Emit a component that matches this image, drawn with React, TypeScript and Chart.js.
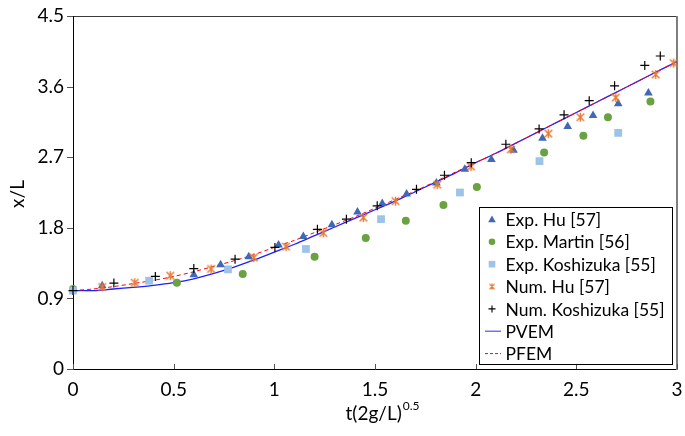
import React, { useEffect, useRef } from 'react';
import { Chart, registerables } from 'chart.js';

Chart.register(...registerables);

const X_TICKS = [0, 0.5, 1, 1.5, 2, 2.5, 3];
const X_TICK_LABELS = ['0', '0.5', '1', '1.5', '2', '2.5', '3'];
const Y_TICKS = [0, 0.9, 1.8, 2.7, 3.6, 4.5];
const Y_TICK_LABELS = ['0', '0.9', '1.8', '2.7', '3.6', '4.5'];

const EXP_HU_T = [0.145, 0.6, 0.733, 0.873, 1.021, 1.144, 1.286, 1.413, 1.536, 1.657, 1.805, 1.946, 2.078, 2.188, 2.332, 2.457, 2.583, 2.708, 2.858];
const EXP_HU_V = [1.06, 1.2, 1.33, 1.43, 1.58, 1.69, 1.84, 2.0, 2.11, 2.23, 2.37, 2.545, 2.67, 2.79, 2.94, 3.09, 3.23, 3.38, 3.52];

const EXP_MARTIN_T = [0, 0.516, 0.843, 1.2, 1.454, 1.653, 1.84, 2.006, 2.34, 2.535, 2.657, 2.868];
const EXP_MARTIN_V = [1.02, 1.1, 1.21, 1.43, 1.67, 1.89, 2.09, 2.32, 2.76, 2.975, 3.21, 3.41];

const EXP_KOSH_T = [0, 0.378, 0.77, 1.157, 1.53, 1.922, 2.317, 2.708];
const EXP_KOSH_V = [1.0, 1.125, 1.27, 1.53, 1.91, 2.25, 2.65, 3.01];

const NUM_HU_T = [0.145, 0.307, 0.483, 0.686, 0.898, 1.058, 1.243, 1.442, 1.602, 1.809, 1.977, 2.175, 2.361, 2.52, 2.696, 2.894, 2.984];
const NUM_HU_V = [1.045, 1.1, 1.19, 1.275, 1.42, 1.56, 1.735, 1.93, 2.14, 2.35, 2.58, 2.8, 3.0, 3.21, 3.46, 3.755, 3.9];

const NUM_KOSH_T = [0, 0.203, 0.409, 0.6, 0.805, 1.003, 1.214, 1.358, 1.511, 1.706, 1.845, 1.978, 2.15, 2.315, 2.439, 2.564, 2.69, 2.84, 2.917];
const NUM_KOSH_V = [1.0, 1.095, 1.18, 1.28, 1.4, 1.55, 1.78, 1.91, 2.08, 2.29, 2.47, 2.63, 2.865, 3.06, 3.24, 3.42, 3.61, 3.87, 3.99];

const LINE_T = [0, 0.1, 0.2, 0.3, 0.4, 0.5, 0.6, 0.7, 0.8, 0.9, 1.0, 1.1, 1.2, 1.3, 1.4, 1.5, 1.6, 1.7, 1.8, 1.9, 2.0, 2.1, 2.2, 2.3, 2.4, 2.5, 2.6, 2.7, 2.8, 2.9, 3.0];
const PVEM_V = [1.0, 1.0, 1.02, 1.04, 1.065, 1.1, 1.15, 1.22, 1.3, 1.39, 1.49, 1.59, 1.7, 1.81, 1.92, 2.03, 2.14, 2.26, 2.38, 2.5, 2.63, 2.75, 2.88, 3.01, 3.14, 3.27, 3.4, 3.53, 3.66, 3.79, 3.92];
const PFEM_V = [1.0, 1.02, 1.05, 1.09, 1.13, 1.18, 1.24, 1.31, 1.38, 1.46, 1.55, 1.64, 1.74, 1.84, 1.94, 2.05, 2.16, 2.27, 2.39, 2.51, 2.63, 2.75, 2.88, 3.01, 3.14, 3.27, 3.4, 3.53, 3.66, 3.79, 3.92];

const LEGEND_LABELS = ['Exp. Hu [57]', 'Exp. Martin [56]', 'Exp. Koshizuka [55]', 'Num. Hu [57]', 'Num. Koshizuka [55]', 'PVEM', 'PFEM'];

const C_HU = '#3F69B5';
const C_MARTIN = '#6AA241';
const C_KOSH = '#9DC3E6';
const C_NUMHU = '#E8772E';
const C_NUMKOSH = '#000000';
const C_PVEM = '#1F1FFF';
const C_PFEM = '#FF0000';
const FONT = 'Lato, "Open Sans", sans-serif';

const pts = (t: number[], v: number[]) => t.map((x, i) => ({ x, y: v[i] }));

function makeStar(color: string, size: number, lw: number) {
  const c = document.createElement('canvas');
  c.width = size;
  c.height = size;
  const g = c.getContext('2d')!;
  g.strokeStyle = color;
  g.lineWidth = lw;
  const m = size / 2;
  const r = size / 2 - 1;
  const d = r * 0.85;
  g.beginPath();
  g.moveTo(m - d, m - d); g.lineTo(m + d, m + d);
  g.moveTo(m + d, m - d); g.lineTo(m - d, m + d);
  g.moveTo(m, m - r); g.lineTo(m, m + r);
  g.stroke();
  return c;
}

function drawSymbol(ctx: CanvasRenderingContext2D, i: number, x: number, y: number, star: HTMLCanvasElement) {
  ctx.save();
  if (i === 0) {
    ctx.fillStyle = C_HU;
    ctx.beginPath();
    ctx.moveTo(x, y - 4);
    ctx.lineTo(x + 3.8, y + 2.8);
    ctx.lineTo(x - 3.8, y + 2.8);
    ctx.closePath();
    ctx.fill();
  } else if (i === 1) {
    ctx.fillStyle = C_MARTIN;
    ctx.beginPath();
    ctx.arc(x, y, 3.3, 0, Math.PI * 2);
    ctx.fill();
  } else if (i === 2) {
    ctx.fillStyle = C_KOSH;
    ctx.fillRect(x - 3.3, y - 3.3, 6.6, 6.6);
  } else if (i === 3) {
    ctx.drawImage(star, x - 4, y - 4, 8, 8);
  } else if (i === 4) {
    ctx.strokeStyle = C_NUMKOSH;
    ctx.lineWidth = 1.1;
    ctx.beginPath();
    ctx.moveTo(x - 3.5, y); ctx.lineTo(x + 3.5, y);
    ctx.moveTo(x, y - 3.5); ctx.lineTo(x, y + 3.5);
    ctx.stroke();
  } else if (i === 5) {
    ctx.strokeStyle = '#7373F5';
    ctx.lineWidth = 1.5;
    ctx.beginPath();
    ctx.moveTo(x - 7, y); ctx.lineTo(x + 9, y);
    ctx.stroke();
  } else {
    ctx.strokeStyle = C_PFEM;
    ctx.lineWidth = 1;
    ctx.setLineDash([3, 2]);
    ctx.beginPath();
    ctx.moveTo(x - 7, y); ctx.lineTo(x + 9, y);
    ctx.stroke();
  }
  ctx.restore();
}

export default function App() {
  const ref = useRef<HTMLCanvasElement | null>(null);

  useEffect(() => {
    if (!ref.current) return;
    const star = makeStar(C_NUMHU, 11, 1.4);
    const legendStar = makeStar(C_NUMHU, 9, 1.2);

    const framePlugin = {
      id: 'framePlugin',
      beforeDatasetsDraw(chart: any) {
        const { ctx, chartArea: a, scales } = chart;
        ctx.save();
        ctx.lineWidth = 1;
        ctx.strokeStyle = '#3a3a3a';
        ctx.beginPath();
        ctx.moveTo(a.left, a.top + 0.5);
        ctx.lineTo(a.right, a.top + 0.5);
        ctx.stroke();
        ctx.strokeStyle = '#000';
        ctx.beginPath();
        ctx.moveTo(a.left + 0.5, a.top);
        ctx.lineTo(a.left + 0.5, a.bottom + 0.5);
        ctx.lineTo(a.right, a.bottom + 0.5);
        ctx.stroke();
        ctx.strokeStyle = '#7f7f7f';
        ctx.lineWidth = 2;
        ctx.beginPath();
        ctx.moveTo(a.right, a.top);
        ctx.lineTo(a.right, a.bottom + 1);
        ctx.stroke();
        ctx.lineWidth = 1;
        ctx.strokeStyle = '#555';
        Y_TICKS.forEach((v) => {
          const y = Math.round(scales.y.getPixelForValue(v)) + 0.5;
          ctx.beginPath();
          ctx.moveTo(a.left - 6, y);
          ctx.lineTo(a.left, y);
          ctx.stroke();
        });
        X_TICKS.forEach((v) => {
          const x = Math.round(scales.x.getPixelForValue(v)) + 0.5;
          ctx.beginPath();
          ctx.moveTo(x, a.bottom - 5);
          ctx.lineTo(x, a.bottom);
          ctx.stroke();
        });
        ctx.fillStyle = '#000';
        ctx.textBaseline = 'alphabetic';
        ctx.font = `19px ${FONT}`;
        const main = 't(2g/L)';
        const wMain = ctx.measureText(main).width;
        ctx.font = `12px ${FONT}`;
        const sup = '0.5';
        const wSup = ctx.measureText(sup).width;
        const x0 = 382 - (wMain + wSup) / 2;
        ctx.font = `19px ${FONT}`;
        ctx.textAlign = 'left';
        ctx.fillText(main, x0, 420);
        ctx.font = `12px ${FONT}`;
        ctx.fillText(sup, x0 + wMain + 1, 410);
        ctx.save();
        ctx.translate(24, 194);
        ctx.rotate(-Math.PI / 2);
        ctx.font = `19px ${FONT}`;
        ctx.textAlign = 'center';
        ctx.fillText('x/L', 0, 0);
        ctx.restore();
        ctx.restore();
      },
      afterDatasetsDraw(chart: any) {
        const { ctx } = chart;
        ctx.save();
        const bx = 479.5, by = 207.5, bw = 193, bh = 157;
        ctx.fillStyle = '#fff';
        ctx.fillRect(bx, by, bw, bh);
        ctx.strokeStyle = '#000';
        ctx.lineWidth = 1;
        ctx.strokeRect(bx, by, bw, bh);
        ctx.font = `17.5px ${FONT}`;
        ctx.fillStyle = '#000';
        ctx.textAlign = 'left';
        ctx.textBaseline = 'middle';
        LEGEND_LABELS.forEach((lab, i) => {
          const y = 219.5 + i * 22.35;
          drawSymbol(ctx, i, 492, y, legendStar);
          ctx.fillText(lab, 505.5, y + 1);
        });
        ctx.restore();
      },
    };

    const chart = new Chart(ref.current, {
      type: 'scatter',
      data: {
        datasets: [
          {
            label: LEGEND_LABELS[4], data: pts(NUM_KOSH_T, NUM_KOSH_V), order: 0,
            pointStyle: 'cross', pointRadius: 4.5, borderColor: C_NUMKOSH, backgroundColor: C_NUMKOSH,
            pointBorderWidth: 1.2, clip: false,
          },
          {
            label: LEGEND_LABELS[3], data: pts(NUM_HU_T, NUM_HU_V), order: 1,
            pointStyle: star, pointRadius: 5.5, borderColor: C_NUMHU, backgroundColor: C_NUMHU, clip: false,
          },
          {
            label: LEGEND_LABELS[0], data: pts(EXP_HU_T, EXP_HU_V), order: 2,
            pointStyle: 'triangle', pointRadius: 5, borderColor: C_HU, backgroundColor: C_HU,
            pointBorderWidth: 0, clip: false,
          },
          {
            label: LEGEND_LABELS[2], data: pts(EXP_KOSH_T, EXP_KOSH_V), order: 3,
            pointStyle: 'rect', pointRadius: 5.5, borderColor: C_KOSH, backgroundColor: C_KOSH,
            pointBorderWidth: 0, clip: false,
          },
          {
            label: LEGEND_LABELS[1], data: pts(EXP_MARTIN_T, EXP_MARTIN_V), order: 4,
            pointStyle: 'circle', pointRadius: 4, borderColor: C_MARTIN, backgroundColor: C_MARTIN,
            pointBorderWidth: 0, clip: false,
          },
          {
            label: LEGEND_LABELS[6], data: pts(LINE_T, PFEM_V), order: 5, showLine: true,
            borderColor: C_PFEM, borderWidth: 1, borderDash: [4, 3], pointRadius: 0, tension: 0.3,
          },
          {
            label: LEGEND_LABELS[5], data: pts(LINE_T, PVEM_V), order: 6, showLine: true,
            borderColor: C_PVEM, borderWidth: 1.3, pointRadius: 0, tension: 0.3,
          },
        ],
      },
      options: {
        animation: false,
        responsive: false,
        layout: { padding: { left: 0, top: 16, right: 8, bottom: 0 } },
        plugins: { legend: { display: false }, tooltip: { enabled: false } },
        scales: {
          x: {
            type: 'linear', min: 0, max: 3,
            grid: { display: false, drawTicks: false },
            border: { display: false },
            afterBuildTicks: (s: any) => { s.ticks = X_TICKS.map((v) => ({ value: v })); },
            afterFit: (s: any) => { s.height = 67; s.paddingLeft = 0; s.paddingRight = 0; },
            ticks: {
              padding: 9, color: '#000', font: { family: FONT, size: 19 },
              maxRotation: 0, autoSkip: false,
              callback: (v: any) => X_TICK_LABELS[X_TICKS.indexOf(Number(v))] ?? '',
            },
          },
          y: {
            type: 'linear', min: 0, max: 4.5,
            grid: { display: false, drawTicks: false },
            border: { display: false },
            afterBuildTicks: (s: any) => { s.ticks = Y_TICKS.map((v) => ({ value: v })); },
            afterFit: (s: any) => { s.width = 73; s.paddingTop = 0; s.paddingBottom = 0; },
            ticks: {
              padding: 9, color: '#000', font: { family: FONT, size: 19 },
              autoSkip: false,
              callback: (v: any) => Y_TICK_LABELS[Y_TICKS.indexOf(Number(v))] ?? '',
            },
          },
        },
      },
      plugins: [framePlugin],
    } as any);
    return () => chart.destroy();
  }, []);

  return (
    <div style={{ position: 'absolute', left: 0, top: 0, width: 685, height: 436, background: '#fff' }}>
      <canvas ref={ref} width={685} height={436} style={{ display: 'block' }} />
    </div>
  );
}
